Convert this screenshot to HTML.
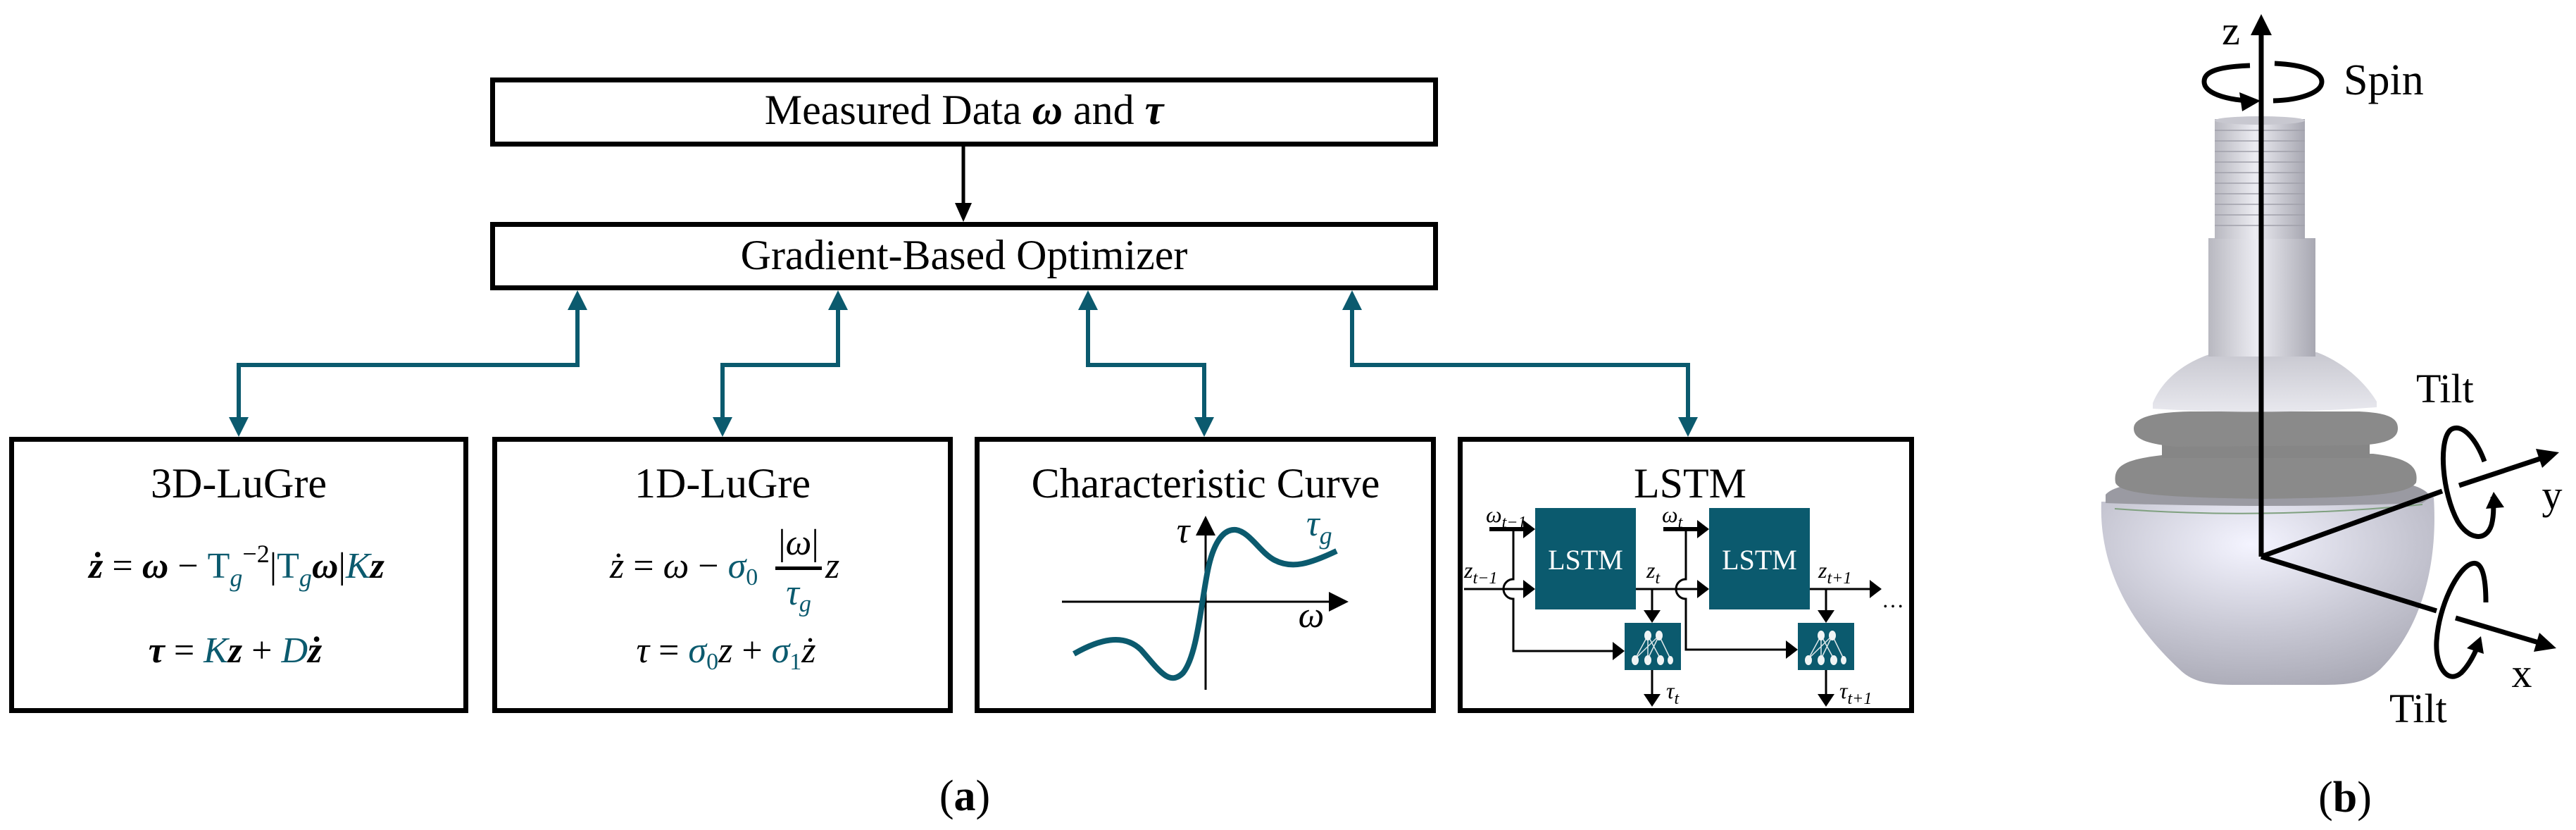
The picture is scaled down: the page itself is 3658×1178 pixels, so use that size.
<!DOCTYPE html>
<html><head><meta charset="utf-8"><style>
html,body{margin:0;padding:0;background:#fff}
svg{display:block}
text{font-family:"Liberation Serif","DejaVu Serif",serif}
.t{font-size:60px}
.m{font-size:52px}
.i{font-style:italic}
.b{font-weight:bold}
.c{fill:#0b5a6e}
</style></head><body>
<svg width="3658" height="1178" viewBox="0 0 3658 1178" xmlns="http://www.w3.org/2000/svg">
<defs>
<radialGradient id="ball" cx="0.45" cy="0.25" r="0.8">
<stop offset="0" stop-color="#f4f4ff"/><stop offset="0.6" stop-color="#c6c6d2"/><stop offset="1" stop-color="#a9a9b5"/></radialGradient>
<linearGradient id="cyl" x1="0" x2="1" y1="0" y2="0">
<stop offset="0" stop-color="#b8b8c0"/><stop offset="0.45" stop-color="#ececf2"/><stop offset="1" stop-color="#a8a8b2"/></linearGradient>
<linearGradient id="disk" x1="0" x2="0" y1="0" y2="1">
<stop offset="0" stop-color="#c8c8d0"/><stop offset="1" stop-color="#e8e8ee"/></linearGradient>
</defs>
<rect width="3658" height="1178" fill="#fff"/>

<rect x="699.5" y="113.5" width="1339" height="91" fill="#fff" stroke="#000" stroke-width="7"/>
<text x="1369" y="176" text-anchor="middle" class="t">Measured Data <tspan class="i b">ω</tspan> and <tspan class="i b">τ</tspan></text>
<rect x="699.5" y="318.5" width="1339" height="90" fill="#fff" stroke="#000" stroke-width="7"/>
<text x="1369" y="382" text-anchor="middle" class="t">Gradient-Based Optimizer</text>
<line x1="1368" y1="208" x2="1368" y2="290" stroke="#000" stroke-width="5"/>
<polygon points="1356,288 1380,288 1368,315" fill="#000"/>

<g fill="none" stroke="#0b5a6e" stroke-width="6">
<path d="M820,438 V518 H339 V596"/>
<path d="M1190,438 V518 H1026 V596"/>
<path d="M1545,438 V518 H1710 V596"/>
<path d="M1920,438 V518 H2397 V596"/>
</g>
<g fill="#0b5a6e">
<polygon points="820,412 806,440 834,440"/><polygon points="339,620 325,592 353,592"/>
<polygon points="1190,412 1176,440 1204,440"/><polygon points="1026,620 1012,592 1040,592"/>
<polygon points="1545,412 1531,440 1559,440"/><polygon points="1710,620 1696,592 1724,592"/>
<polygon points="1920,412 1906,440 1934,440"/><polygon points="2397,620 2383,592 2411,592"/>
</g>

<g fill="none" stroke="#000" stroke-width="7">
<rect x="16.5" y="623.5" width="645" height="385"/>
<rect x="702.5" y="623.5" width="647" height="385"/>
<rect x="1387.5" y="623.5" width="648" height="385"/>
<rect x="2073.5" y="623.5" width="641" height="385"/>
</g>
<text x="339" y="706" text-anchor="middle" class="t">3D-LuGre</text>
<text x="1026" y="706" text-anchor="middle" class="t">1D-LuGre</text>
<text x="1712" y="706" text-anchor="middle" class="t">Characteristic Curve</text>
<text x="2400" y="706" text-anchor="middle" class="t">LSTM</text>

<text x="336" y="820" text-anchor="middle" class="m"><tspan class="i b">ż</tspan> = <tspan class="i b">ω</tspan> − <tspan class="c">T</tspan><tspan class="c i" font-size="36" dy="12">g</tspan><tspan font-size="36" dy="-34">−2</tspan><tspan dy="22">|</tspan><tspan class="c">T</tspan><tspan class="c i" font-size="36" dy="12">g</tspan><tspan class="i b" dy="-12">ω</tspan>|<tspan class="c i">K</tspan><tspan class="i b">z</tspan></text>
<text x="334" y="940" text-anchor="middle" class="m"><tspan class="i b">τ</tspan> = <tspan class="c i">K</tspan><tspan class="i b">z</tspan> + <tspan class="c i">D</tspan><tspan class="i b">ż</tspan></text>

<text x="866" y="820" class="m"><tspan class="i">ż</tspan> = <tspan class="i">ω</tspan> − <tspan class="c i">σ</tspan><tspan class="c" font-size="34" dy="10">0</tspan></text>
<text x="1134" y="787" text-anchor="middle" class="m">|<tspan class="i">ω</tspan>|</text>
<rect x="1101" y="804" width="66" height="5" fill="#000"/>
<text x="1134" y="858" text-anchor="middle" class="m c"><tspan class="i">τ</tspan><tspan class="i" font-size="34" dy="10">g</tspan></text>
<text x="1172" y="820" class="m i">z</text>
<text x="1031" y="940" text-anchor="middle" class="m"><tspan class="i">τ</tspan> = <tspan class="c i">σ</tspan><tspan class="c" font-size="34" dy="10">0</tspan><tspan class="i" dy="-10">z</tspan> + <tspan class="c i">σ</tspan><tspan class="c" font-size="34" dy="10">1</tspan><tspan class="i" dy="-10">ż</tspan></text>

<line x1="1712" y1="748" x2="1712" y2="979" stroke="#000" stroke-width="3"/>
<polygon points="1712,732 1698,760 1726,760" fill="#000"/>
<line x1="1508" y1="854" x2="1895" y2="854" stroke="#000" stroke-width="3"/>
<polygon points="1915,854 1887,840 1887,868" fill="#000"/>
<path d="M1525,928 C1560,908 1595,898 1620,922 C1645,950 1660,975 1680,955 C1700,930 1705,860 1715,810 C1722,775 1735,750 1755,752 C1775,755 1790,785 1810,795 C1835,808 1860,800 1898,782" fill="none" stroke="#0b5a6e" stroke-width="8"/>
<text x="1680" y="770" text-anchor="middle" class="m i">τ</text>
<text x="1855" y="760" class="m i c">τ<tspan font-size="36" dy="12">g</tspan></text>
<text x="1862" y="890" text-anchor="middle" class="m i">ω</text>

<rect x="2180" y="721" width="143" height="144" fill="#0b5a6e"/>
<rect x="2427" y="721" width="143" height="144" fill="#0b5a6e"/>
<text x="2251.5" y="808" text-anchor="middle" font-size="40" fill="#fff">LSTM</text>
<text x="2498.5" y="808" text-anchor="middle" font-size="40" fill="#fff">LSTM</text>
<g id="nn">
<rect x="2307" y="884" width="80" height="67" fill="#0b5a6e"/>
<g stroke="#dfe8ea" stroke-width="1.5">
<line x1="2340" y1="902" x2="2322" y2="935"/><line x1="2340" y1="902" x2="2340" y2="935"/><line x1="2340" y1="902" x2="2358" y2="935"/>
<line x1="2356" y1="902" x2="2322" y2="935"/><line x1="2356" y1="902" x2="2340" y2="935"/><line x1="2356" y1="902" x2="2372" y2="935"/>
</g>
<g fill="#f0f4f5">
<ellipse cx="2340" cy="902" rx="5" ry="7"/><ellipse cx="2356" cy="902" rx="5" ry="7"/>
<ellipse cx="2322" cy="937" rx="5" ry="7"/><ellipse cx="2340" cy="937" rx="5" ry="7"/><ellipse cx="2358" cy="937" rx="5" ry="7"/><ellipse cx="2372" cy="937" rx="4" ry="6"/>
</g>
</g>
<use href="#nn" x="246"/>
<g fill="none" stroke="#000" stroke-width="3">
<path d="M2079,836 H2165"/>
<path d="M2149,751 V822 A14,14 0 0 0 2149,850 V924 H2292"/>
<path d="M2323,836 H2412"/>
<path d="M2346,836 V870"/>
<path d="M2346,951 V988"/>
<path d="M2394,751 V822 A14,14 0 0 0 2394,850 V922 H2538"/>
<path d="M2570,836 H2655"/>
<path d="M2593,836 V870"/>
<path d="M2593,951 V988"/>
</g>
<path d="M2115,751 H2165" stroke="#000" stroke-width="6"/>
<path d="M2362,751 H2412" stroke="#000" stroke-width="6"/>
<g fill="#000">
<polygon points="2180,751 2163,738 2163,764"/>
<polygon points="2180,836 2163,823 2163,849"/>
<polygon points="2307,924 2290,911 2290,937"/>
<polygon points="2346,884 2334,866 2358,866"/>
<polygon points="2346,1003 2334,985 2358,985"/>
<polygon points="2427,751 2410,738 2410,764"/>
<polygon points="2427,836 2410,823 2410,849"/>
<polygon points="2553,922 2536,909 2536,935"/>
<polygon points="2593,884 2581,866 2605,866"/>
<polygon points="2593,1003 2581,985 2605,985"/>
<polygon points="2672,836 2655,823 2655,849"/>
</g>
<g font-size="32" font-style="italic">
<text x="2110" y="741">ω<tspan font-size="24" dy="8">t−1</tspan></text>
<text x="2079" y="820">z<tspan font-size="24" dy="8">t−1</tspan></text>
<text x="2360" y="741">ω<tspan font-size="24" dy="8">t</tspan></text>
<text x="2338" y="820">z<tspan font-size="24" dy="8">t</tspan></text>
<text x="2582" y="820">z<tspan font-size="24" dy="8">t+1</tspan></text>
<text x="2366" y="991">τ<tspan font-size="24" dy="8">t</tspan></text>
<text x="2612" y="991">τ<tspan font-size="24" dy="8">t+1</tspan></text>
</g>
<text x="2672" y="862" font-size="32">…</text>

<text x="1370" y="1150" text-anchor="middle" font-size="62">(<tspan font-weight="bold">a</tspan>)</text>

<!-- part (b) -->
<path d="M2984,712 L3456,706 C3462,800 3440,890 3380,950 C3360,968 3340,972 3300,972 L3170,972 C3130,972 3110,965 3095,950 C3030,890 2980,810 2984,712 Z" fill="url(#ball)"/>
<path d="M2990,702 C3000,690 3030,686 3060,684 L3380,682 C3420,684 3445,692 3452,706 L3440,714 Q3215,722 2990,714 Z" fill="#9a9aa2"/>
<path d="M3004,685 C3000,660 3020,652 3070,646 L3370,644 C3420,650 3435,662 3431,685 C3420,700 3380,706 3215,708 C3060,706 3010,700 3004,685 Z" fill="#8a8a8a"/>
<path d="M3003,722 Q3215,738 3440,716" stroke="#7fa07f" stroke-width="2" fill="none"/>
<rect x="3070" y="628" width="295" height="22" fill="#868686"/>
<path d="M3030,608 C3030,592 3060,585 3110,584 L3350,584 C3395,586 3405,595 3405,608 C3405,622 3390,630 3350,632 L3090,634 C3045,630 3030,622 3030,608 Z" fill="#8a8a8a"/>
<path d="M3057,572 C3070,540 3100,515 3140,502 L3290,500 C3330,515 3360,545 3375,570 L3375,578 Q3215,590 3057,580 Z" fill="url(#disk)"/>
<rect x="3136" y="338" width="152" height="168" fill="url(#cyl)"/>
<rect x="3145" y="169" width="128" height="170" fill="url(#cyl)"/>
<g stroke="#a0a0aa" stroke-width="1.5">
<line x1="3145" y1="185" x2="3273" y2="185"/><line x1="3145" y1="200" x2="3273" y2="200"/><line x1="3145" y1="215" x2="3273" y2="215"/><line x1="3145" y1="230" x2="3273" y2="230"/><line x1="3145" y1="245" x2="3273" y2="245"/><line x1="3145" y1="260" x2="3273" y2="260"/><line x1="3145" y1="275" x2="3273" y2="275"/><line x1="3145" y1="290" x2="3273" y2="290"/><line x1="3145" y1="305" x2="3273" y2="305"/><line x1="3145" y1="320" x2="3273" y2="320"/>
</g>
<ellipse cx="3209" cy="171" rx="64" ry="6" fill="#c8c8d0"/>

<g stroke="#000" stroke-width="7" fill="none">
<path d="M3211,790 V45"/>
<path d="M3211,790 L3468,697"/>
<path d="M3492,689 L3610,650"/>
<path d="M3211,790 L3460,867"/>
<path d="M3487,877 L3605,912"/>
<path d="M3195,93 C3140,95 3130,105 3130,116 C3130,132 3160,141 3192,143"/>
<path d="M3230,90 C3275,92 3297,103 3297,116 C3297,132 3265,142 3228,143"/>
<path d="M3528,655 C3515,620 3495,600 3480,610 C3462,625 3468,700 3490,740 C3505,765 3530,770 3538,745 C3542,730 3541,715 3540,705"/>
<path d="M3530,855 C3530,820 3525,795 3510,800 C3490,806 3463,860 3460,910 C3458,945 3475,972 3495,955 C3505,945 3513,930 3518,918"/>
</g>
<g fill="#000">
<polygon points="3211,20 3196,50 3226,50"/>
<polygon points="3210,143 3180,131 3184,158"/>
<polygon points="3634,642 3601,637 3610,664"/>
<polygon points="3630,920 3606,898 3598,925"/>
<polygon points="3541,698 3530,722 3556,720"/>
<polygon points="3523,903 3503,920 3527,928"/>
</g>
<text x="3168" y="63" text-anchor="middle" font-size="58">z</text>
<text x="3328" y="134" font-size="62">Spin</text>
<text x="3431" y="571" font-size="58">Tilt</text>
<text x="3393" y="1025" font-size="58">Tilt</text>
<text x="3624" y="722" text-anchor="middle" font-size="58">y</text>
<text x="3581" y="975" text-anchor="middle" font-size="58">x</text>
<text x="3330" y="1152" text-anchor="middle" font-size="62">(<tspan font-weight="bold">b</tspan>)</text>
</svg>
</body></html>
